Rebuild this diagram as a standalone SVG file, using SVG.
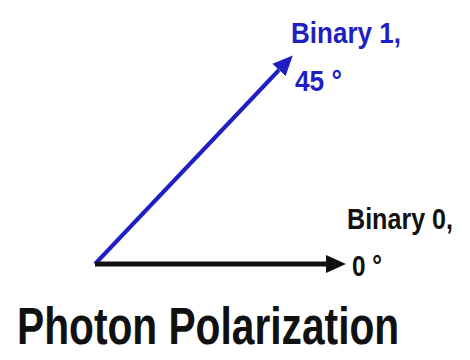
<svg xmlns="http://www.w3.org/2000/svg" width="470" height="360" viewBox="0 0 470 360">
  <style>
    .lbl { font-family: "Liberation Sans", Arial, sans-serif; font-weight: bold; }
    .blue { fill: #1f1fc4; }
    .black { fill: #111111; }
  </style>
  <defs>
    <marker id="ahBlue" markerUnits="userSpaceOnUse" markerWidth="22" markerHeight="22" viewBox="0 -10 22 20" refX="0" refY="0" orient="auto">
      <path d="M0,-9 L20,0 L0,9 z" fill="#1f1fc4"/>
    </marker>
    <marker id="ahBlack" markerUnits="userSpaceOnUse" markerWidth="22" markerHeight="22" viewBox="0 -10 22 20" refX="0" refY="0" orient="auto">
      <path d="M0,-9 L20,0 L0,9 z" fill="#111111"/>
    </marker>
  </defs>
  <rect width="470" height="360" fill="#ffffff"/>
  <g id="connectors" fill="none">
    <path d="M95,264 L279,70" stroke="#1f1fc4" stroke-width="4" marker-end="url(#ahBlue)"/>
    <path d="M95,264 L326,264" stroke="#111111" stroke-width="5" marker-end="url(#ahBlack)"/>
  </g>
  <g id="binary1">
    <text class="lbl blue" font-size="30" transform="translate(291,43) scale(0.868,1)">Binary 1,</text>
    <text class="lbl blue" font-size="30" transform="translate(295,91) scale(0.875,1)">45 °</text>
  </g>
  <g id="binary0">
    <text class="lbl black" font-size="30" transform="translate(347,229) scale(0.837,1)">Binary 0,</text>
    <text class="lbl black" font-size="30" transform="translate(352,276) scale(0.81,1)">0 °</text>
  </g>
  <g id="title">
    <text class="lbl black" font-size="52" transform="translate(17,344) scale(0.783,1)">Photon Polarization</text>
  </g>
</svg>
